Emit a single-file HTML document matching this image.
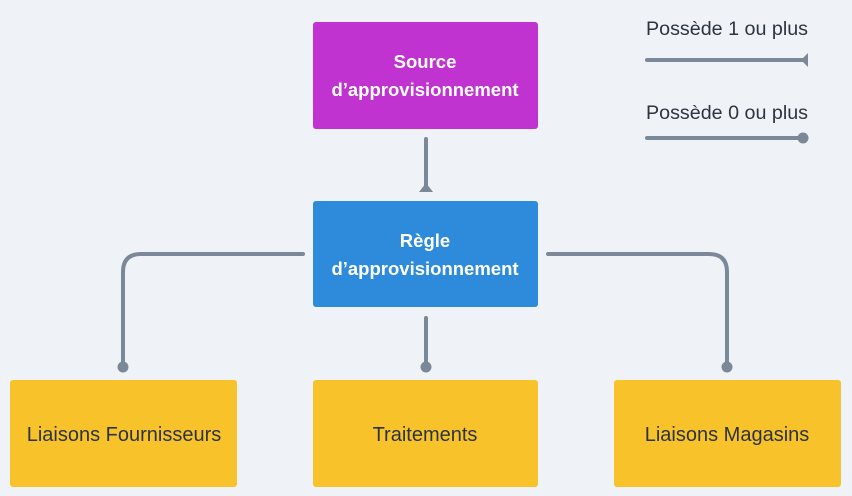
<!DOCTYPE html>
<html><head><meta charset="utf-8"><style>
html,body{margin:0;padding:0;background:#eff3f7;}
svg{display:block;}
text{font-family:"Liberation Sans",sans-serif;}
</style></head><body>
<svg width="852" height="496" viewBox="0 0 852 496" xmlns="http://www.w3.org/2000/svg">
<rect width="852" height="496" fill="#eff3f7"/>
<g stroke="#7b8898" stroke-width="4" fill="none" stroke-linecap="round">
<line x1="426" y1="139" x2="426" y2="186"/>
<line x1="426" y1="318" x2="426" y2="366"/>
<path d="M303 254 H141 Q123 254 123 272 V366"/>
<path d="M548 254 H709 Q727 254 727 272 V366"/>
<line x1="647" y1="60" x2="805" y2="60"/>
<line x1="647" y1="138" x2="803" y2="138"/>
</g>
<g fill="#7b8898">
<polygon points="426,183 419,192 433,192"/>
<circle cx="426" cy="367" r="5.5"/>
<circle cx="123" cy="367" r="5.5"/>
<circle cx="727" cy="367" r="5.5"/>
<polygon points="808,53 808,67 801,60"/>
<circle cx="803" cy="138" r="5.5"/>
</g>
<rect x="313" y="22" width="225" height="107" rx="3" fill="#c033d1"/>
<rect x="313" y="201" width="225" height="106" rx="3" fill="#2e8bdb"/>
<rect x="10" y="380" width="227" height="107" rx="3" fill="#f8c32a"/>
<rect x="313" y="380" width="225" height="107" rx="3" fill="#f8c32a"/>
<rect x="614" y="380" width="227" height="107" rx="3" fill="#f8c32a"/>
<g text-anchor="middle">
<text x="425" y="68" fill="#fff" font-weight="bold" font-size="18.5">Source</text>
<text x="425" y="96" fill="#fff" font-weight="bold" font-size="18.5">d’approvisionnement</text>
<text x="425" y="247" fill="#fff" font-weight="bold" font-size="18.5">Règle</text>
<text x="425" y="275" fill="#fff" font-weight="bold" font-size="18.5">d’approvisionnement</text>
<text x="124" y="441" fill="#2d3440" font-size="20">Liaisons Fournisseurs</text>
<text x="425" y="441" fill="#2d3440" font-size="20">Traitements</text>
<text x="727" y="441" fill="#2d3440" font-size="20">Liaisons Magasins</text>
</g>
<g font-size="19.5" fill="#2d3440">
<text x="646" y="35" textLength="162" lengthAdjust="spacingAndGlyphs">Possède 1 ou plus</text>
<text x="646" y="119" textLength="162" lengthAdjust="spacingAndGlyphs">Possède 0 ou plus</text>
</g>
</svg>
</body></html>
